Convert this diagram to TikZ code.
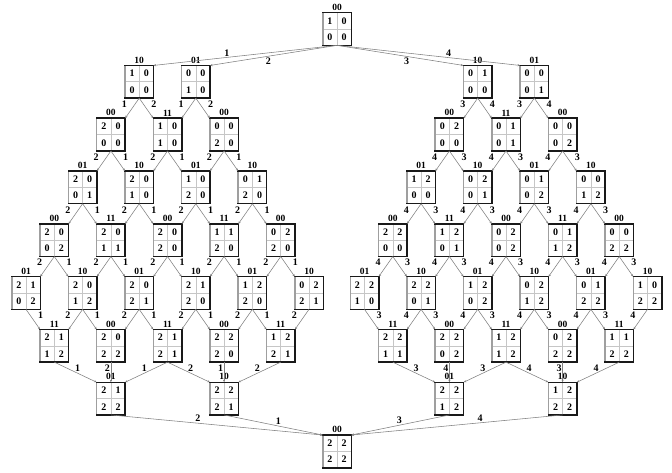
\documentclass[tikz,border=0pt]{standalone}
\usepackage{fontspec}
\setmainfont{Liberation Serif}
\usetikzlibrary{arrows.meta}
\tikzset{
  mbox/.style={rectangle, minimum width=28.5pt, minimum height=32.7pt, inner sep=0pt, outer sep=0pt, draw=none},
  lab/.style={font=\fontsize{9.5}{11}\selectfont\bfseries, inner sep=1pt, label distance=1pt},
  num/.style={font=\fontsize{10}{12}\selectfont\bfseries, inner sep=0pt},
  innerln/.style={draw=gray!45, line width=0.6pt},
  litedge/.style={draw=gray!75, line width=1.5pt, line cap=rect},
  darkedge/.style={draw=black!90, line width=1.5pt, line cap=rect},
  conn/.style={draw=black!50, line width=0.55pt, -{Stealth[length=2.6pt,width=2.2pt]}},
  tl/.style={font=\fontsize{10}{12}\selectfont\bfseries, inner sep=0pt},
  ml/.style={font=\fontsize{10}{12}\selectfont\bfseries, inner sep=1pt}
}
\newcommand\cellbox[8]{%
  \node[mbox, label={[lab]above:#4}] (#1) at (#2,#3) {};
  \draw[innerln] (#1.north) -- (#1.south) (#1.west) -- (#1.east);
  \draw[litedge] (#1.south west) -- (#1.north west);
  \draw[darkedge] (#1.north west) -- (#1.north east) -- (#1.south east) -- (#1.south west);
  \node[num] at ([xshift=-7.1pt,yshift=8.2pt]#1.center) {#5};
  \node[num] at ([xshift=7.1pt,yshift=8.2pt]#1.center) {#6};
  \node[num] at ([xshift=-7.1pt,yshift=-8.2pt]#1.center) {#7};
  \node[num] at ([xshift=7.1pt,yshift=-8.2pt]#1.center) {#8};
}
\newcommand\nd[9]{%
  \pgfmathsetmacro\xx{#2+28.3*#4}%
  \pgfmathsetmacro\yy{29+52.8*#3}%
  \cellbox{#1#3#4}{\xx}{\yy}{#5}{#6}{#7}{#8}{#9}%
}
\newcommand\dl[3]{\draw[conn] (#1.south) -- (#2.north east) node[tl,pos=0.3,xshift=-10.5pt]{#3};}
\newcommand\dr[3]{\draw[conn] (#1.south) -- (#2.north west) node[tl,pos=0.3,xshift=10.5pt]{#3};}
\newcommand\dv[3]{\draw[conn] (#1.south) -- (#2.north) node[tl,pos=0.3,xshift=-3.5pt]{#3};}
\begin{document}
\begin{tikzpicture}[x=1pt,y=-1pt]
\useasboundingbox (0,0) rectangle (672,473);
\fill[white] (0,0) rectangle (672,473);
% top and bottom
\cellbox{T}{337}{29}{00}{1}{0}{0}{0}
\cellbox{B}{337}{451.4}{00}{2}{2}{2}{2}
% left half
\nd{L}{26}{1}{4}{10}{1}{0}{0}{0}
\nd{L}{26}{1}{6}{01}{0}{0}{1}{0}
\nd{L}{26}{2}{3}{00}{2}{0}{0}{0}
\nd{L}{26}{2}{5}{11}{1}{0}{1}{0}
\nd{L}{26}{2}{7}{00}{0}{0}{2}{0}
\nd{L}{26}{3}{2}{01}{2}{0}{0}{1}
\nd{L}{26}{3}{4}{10}{2}{0}{1}{0}
\nd{L}{26}{3}{6}{01}{1}{0}{2}{0}
\nd{L}{26}{3}{8}{10}{0}{1}{2}{0}
\nd{L}{26}{4}{1}{00}{2}{0}{0}{2}
\nd{L}{26}{4}{3}{11}{2}{0}{1}{1}
\nd{L}{26}{4}{5}{00}{2}{0}{2}{0}
\nd{L}{26}{4}{7}{11}{1}{1}{2}{0}
\nd{L}{26}{4}{9}{00}{0}{2}{2}{0}
\nd{L}{26}{5}{0}{01}{2}{1}{0}{2}
\nd{L}{26}{5}{2}{10}{2}{0}{1}{2}
\nd{L}{26}{5}{4}{01}{2}{0}{2}{1}
\nd{L}{26}{5}{6}{10}{2}{1}{2}{0}
\nd{L}{26}{5}{8}{01}{1}{2}{2}{0}
\nd{L}{26}{5}{10}{10}{0}{2}{2}{1}
\nd{L}{26}{6}{1}{11}{2}{1}{1}{2}
\nd{L}{26}{6}{3}{00}{2}{0}{2}{2}
\nd{L}{26}{6}{5}{11}{2}{1}{2}{1}
\nd{L}{26}{6}{7}{00}{2}{2}{2}{0}
\nd{L}{26}{6}{9}{11}{1}{2}{2}{1}
\nd{L}{26}{7}{3}{01}{2}{1}{2}{2}
\nd{L}{26}{7}{7}{10}{2}{2}{2}{1}
% right half
\nd{R}{364.5}{1}{4}{10}{0}{1}{0}{0}
\nd{R}{364.5}{1}{6}{01}{0}{0}{0}{1}
\nd{R}{364.5}{2}{3}{00}{0}{2}{0}{0}
\nd{R}{364.5}{2}{5}{11}{0}{1}{0}{1}
\nd{R}{364.5}{2}{7}{00}{0}{0}{0}{2}
\nd{R}{364.5}{3}{2}{01}{1}{2}{0}{0}
\nd{R}{364.5}{3}{4}{10}{0}{2}{0}{1}
\nd{R}{364.5}{3}{6}{01}{0}{1}{0}{2}
\nd{R}{364.5}{3}{8}{10}{0}{0}{1}{2}
\nd{R}{364.5}{4}{1}{00}{2}{2}{0}{0}
\nd{R}{364.5}{4}{3}{11}{1}{2}{0}{1}
\nd{R}{364.5}{4}{5}{00}{0}{2}{0}{2}
\nd{R}{364.5}{4}{7}{11}{0}{1}{1}{2}
\nd{R}{364.5}{4}{9}{00}{0}{0}{2}{2}
\nd{R}{364.5}{5}{0}{01}{2}{2}{1}{0}
\nd{R}{364.5}{5}{2}{10}{2}{2}{0}{1}
\nd{R}{364.5}{5}{4}{01}{1}{2}{0}{2}
\nd{R}{364.5}{5}{6}{10}{0}{2}{1}{2}
\nd{R}{364.5}{5}{8}{01}{0}{1}{2}{2}
\nd{R}{364.5}{5}{10}{10}{1}{0}{2}{2}
\nd{R}{364.5}{6}{1}{11}{2}{2}{1}{1}
\nd{R}{364.5}{6}{3}{00}{2}{2}{0}{2}
\nd{R}{364.5}{6}{5}{11}{1}{2}{1}{2}
\nd{R}{364.5}{6}{7}{00}{0}{2}{2}{2}
\nd{R}{364.5}{6}{9}{11}{1}{1}{2}{2}
\nd{R}{364.5}{7}{3}{01}{2}{2}{1}{2}
\nd{R}{364.5}{7}{7}{10}{1}{2}{2}{2}
% top edges
\draw[conn] (T.south) -- (L14.north east) node[ml,pos=0.6,above]{1};
\draw[conn] (T.south) -- (L16.north east) node[ml,pos=0.54,below]{2};
\draw[conn] (T.south) -- (R14.north west) node[ml,pos=0.55,below]{3};
\draw[conn] (T.south) -- (R16.north west) node[ml,pos=0.61,above]{4};
% inner edges
\foreach \sd/\la/\lb in {L/1/2, R/3/4}{
  \dl{\sd14}{\sd23}{\la}
  \dr{\sd14}{\sd25}{\lb}
  \dl{\sd16}{\sd25}{\la}
  \dr{\sd16}{\sd27}{\lb}
  \foreach \ra/\ka in {2/3,2/5,2/7,3/2,3/4,3/6,3/8,4/1,4/3,4/5,4/7,4/9,5/2,5/4,5/6,5/8}{
    \pgfmathtruncatemacro\nr{\ra+1}
    \pgfmathtruncatemacro\kl{\ka-1}
    \pgfmathtruncatemacro\kr{\ka+1}
    \dl{\sd\ra\ka}{\sd\nr\kl}{\lb}
    \dr{\sd\ra\ka}{\sd\nr\kr}{\la}
  }
  \dr{\sd50}{\sd61}{\la}
  \dl{\sd510}{\sd69}{\lb}
  \dr{\sd61}{\sd73}{\la}
  \dv{\sd63}{\sd73}{\lb}
  \dl{\sd65}{\sd73}{\la}
  \dr{\sd65}{\sd77}{\lb}
  \dv{\sd67}{\sd77}{\la}
  \dl{\sd69}{\sd77}{\lb}
}
% bottom edges
\draw[conn] (L73.south) -- (B.north west) node[ml,pos=0.41,above]{2};
\draw[conn] (L77.south) -- (B.north west) node[ml,pos=0.55,above]{1};
\draw[conn] (R73.south) -- (B.north east) node[ml,pos=0.51,above]{3};
\draw[conn] (R77.south) -- (B.north east) node[ml,pos=0.39,above]{4};
\end{tikzpicture}
\end{document}
